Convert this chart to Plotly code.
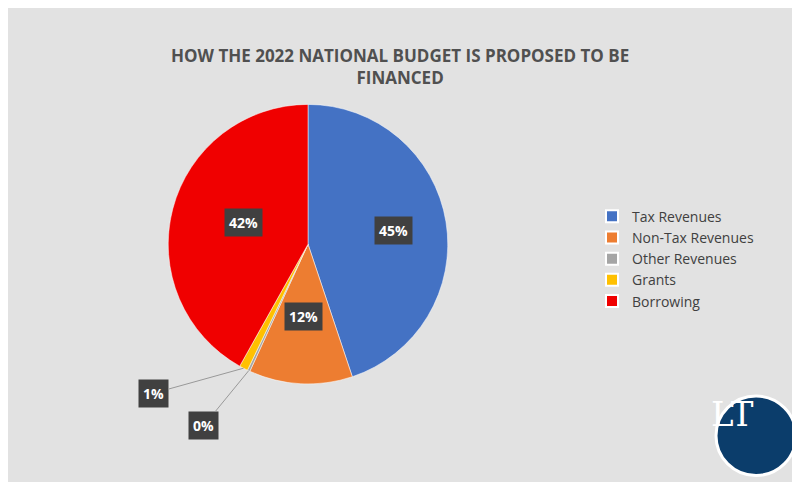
import math
import plotly.graph_objects as go

labels = ["Tax Revenues", "Non-Tax Revenues", "Other Revenues", "Grants", "Borrowing"]
values = [45, 12, 0.3, 1, 42]
shown = ["45%", "12%", "0%", "1%", "42%"]
colors = ["#4472C4", "#ED7D31", "#A5A5A5", "#FFC000", "#F00000"]

W, H = 800, 482
dom_x = [0.2, 0.55]
dom_y = [0.22, 0.8]

fig = go.Figure(go.Pie(
    labels=labels, values=values, sort=False, direction="clockwise", rotation=0,
    marker=dict(colors=colors, line=dict(color="#ffffff", width=0.5)),
    textinfo="none", hoverinfo="label+percent",
    domain=dict(x=dom_x, y=dom_y),
))

# centre and radius of the pie in pixels
cx = W * (dom_x[0] + dom_x[1]) / 2
cy = H * (1 - (dom_y[0] + dom_y[1]) / 2)
r = min(W * (dom_x[1] - dom_x[0]), H * (dom_y[1] - dom_y[0])) / 2

total = sum(values)
cum = 0
for v, t in zip(values, shown):
    mid = (cum + v / 2) / total * 2 * math.pi
    cum += v
    if v >= 5:
        px = cx + r * 0.62 * math.sin(mid)
        py = cy - r * 0.62 * math.cos(mid)
        fig.add_annotation(x=px / W, y=1 - py / H, xref="paper", yref="paper",
                           text="<b>" + t + "</b>", showarrow=False,
                           font=dict(color="white", size=14, family="Open Sans"),
                           bgcolor="#404040", borderpad=4)
    else:
        ex = cx + r * math.sin(mid)
        ey = cy - r * math.cos(mid)
        off = (-90, 25) if t == "1%" else (-45, 55)
        fig.add_annotation(x=ex / W, y=1 - ey / H, xref="paper", yref="paper",
                           text="<b>" + t + "</b>", showarrow=True, arrowhead=0,
                           arrowcolor="#999999", arrowwidth=1, ax=off[0], ay=off[1],
                           font=dict(color="white", size=14, family="Open Sans"),
                           bgcolor="#404040", borderpad=4)

fig.add_annotation(x=0.49, y=0.93, xref="paper", yref="paper", showarrow=False,
                   text="<b>HOW THE 2022 NATIONAL BUDGET IS PROPOSED TO BE<br>FINANCED</b>",
                   font=dict(size=17, color="#505050", family="Open Sans"))

# LT logo
fig.add_shape(type="circle", xref="paper", yref="paper", x0=0.885, x1=0.985, y0=0.03, y1=0.195,
              fillcolor="#0b3d6b", line=dict(color="white", width=3))
fig.add_annotation(x=0.935, y=0.112, xref="paper", yref="paper", showarrow=False,
                   text="LT", font=dict(size=34, color="white", family="DejaVu Serif"))

fig.update_layout(
    width=W, height=H, margin=dict(l=0, r=0, t=0, b=0),
    paper_bgcolor="#e2e2e2", plot_bgcolor="#e2e2e2",
    legend=dict(x=0.73, y=0.48, yanchor="middle", font=dict(size=14, color="#404040", family="Open Sans"),
                tracegroupgap=12, itemsizing="constant"),
)
fig.write_html("out.html")
